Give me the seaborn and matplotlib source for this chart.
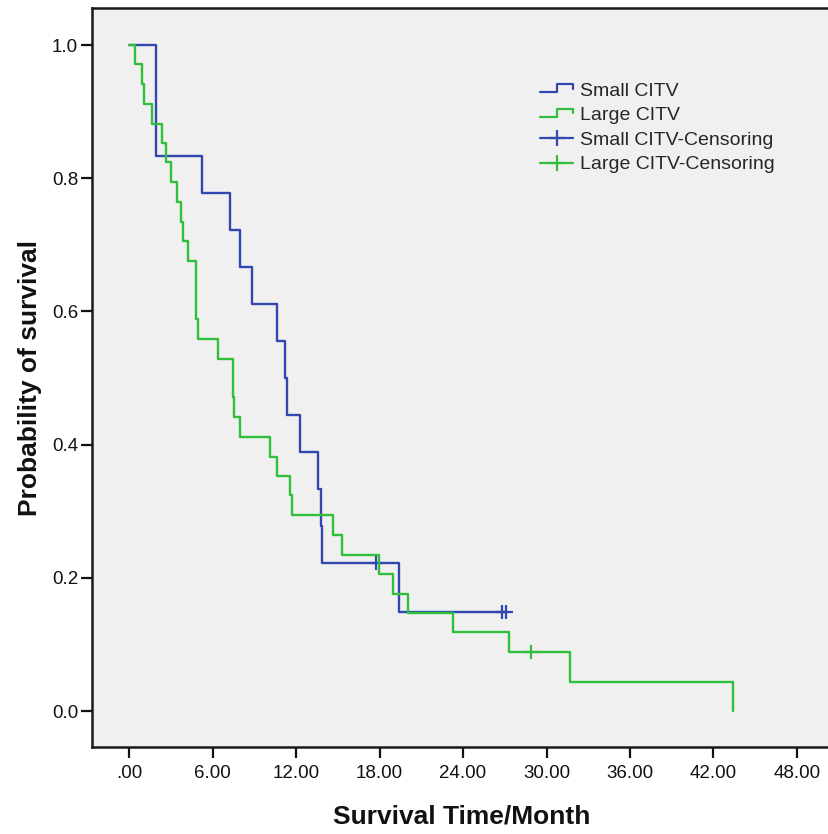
import numpy as np
import pandas as pd
import matplotlib
matplotlib.use("Agg")
import matplotlib.pyplot as plt
import seaborn as sns
from matplotlib.lines import Line2D
from matplotlib.legend_handler import HandlerBase

# step points (time in months, survival after the step)
small_t = [0, 1.94, 5.27, 7.23, 7.97, 8.81, 10.61, 11.2, 11.33, 12.3, 13.55, 13.77, 13.9, 19.42, 27.1]
small_s = [1.0, 0.833, 0.778, 0.722, 0.667, 0.611, 0.556, 0.5, 0.444, 0.389, 0.333, 0.278, 0.222, 0.148, 0.148]
small_cens_t = [17.74, 26.8, 27.1]
small_cens_s = [0.222, 0.148, 0.148]

large_t = [0, 0.43, 0.91, 1.1, 1.63, 2.37, 2.66, 2.99, 3.47, 3.71, 3.85, 4.21, 4.79, 4.82, 4.98,
           6.42, 7.45, 7.5, 7.57, 7.97, 10.13, 10.6, 11.57, 11.69, 14.68, 15.34, 17.98, 18.99,
           20.07, 23.25, 27.3, 31.7, 43.37]
large_s = [1.0, 0.971, 0.941, 0.912, 0.882, 0.853, 0.824, 0.794, 0.765, 0.735, 0.706, 0.676, 0.647,
           0.588, 0.559, 0.529, 0.5, 0.471, 0.441, 0.412, 0.382, 0.353, 0.324, 0.294, 0.265, 0.235,
           0.206, 0.176, 0.147, 0.118, 0.088, 0.044, 0.0]
large_cens_t = [28.9]
large_cens_s = [0.088]

x_ticks = [0, 6, 12, 18, 24, 30, 36, 42, 48]
x_ticklabels = [".00", "6.00", "12.00", "18.00", "24.00", "30.00", "36.00", "42.00", "48.00"]
y_ticks = [0.0, 0.2, 0.4, 0.6, 0.8, 1.0]
y_ticklabels = ["0.0", "0.2", "0.4", "0.6", "0.8", "1.0"]

blue = "#3347b0"
green = "#2fbf3a"

sns.set_style("white")
plt.rcParams["font.family"] = ["Liberation Sans", "DejaVu Sans"]

fig = plt.figure(figsize=(8.29, 8.34), dpi=100)
ax = fig.add_axes([92 / 829, 87 / 834, 737 / 829, 739 / 834])
ax.set_facecolor("#f0f0f0")

small = pd.DataFrame({"t": small_t, "s": small_s})
large = pd.DataFrame({"t": large_t, "s": large_s})

sns.lineplot(data=small, x="t", y="s", ax=ax, color=blue, lw=1.7, drawstyle="steps-post",
             estimator=None, sort=False)
sns.lineplot(data=large, x="t", y="s", ax=ax, color=green, lw=1.7, drawstyle="steps-post",
             estimator=None, sort=False)
sns.scatterplot(x=small_cens_t, y=small_cens_s, ax=ax, marker="+", s=95, color=blue, linewidth=1.6)
sns.scatterplot(x=large_cens_t, y=large_cens_s, ax=ax, marker="+", s=95, color=green, linewidth=1.6)

ax.set_xlim(-2.66, 50.3)
ax.set_ylim(-0.054, 1.0556)
ax.set_xticks(x_ticks)
ax.set_xticklabels(x_ticklabels)
ax.set_yticks(y_ticks)
ax.set_yticklabels(y_ticklabels)
ax.tick_params(axis="both", direction="out", length=8, width=1.6, color="#111111",
               labelsize=13.5, labelcolor="#111111", left=True, bottom=True)
ax.tick_params(axis="x", pad=5)
ax.tick_params(axis="y", pad=2)

for side in ["left", "bottom", "top"]:
    ax.spines[side].set_color("#1a1a1a")
    ax.spines[side].set_linewidth(1.8)
ax.spines["right"].set_visible(False)

ax.set_xlabel("Survival Time/Month", fontsize=19, fontweight="bold", color="#111111")
ax.set_ylabel("Probability of survival", fontsize=19, fontweight="bold", color="#111111")
ax.xaxis.label.set_va("center")
ax.yaxis.label.set_va("center")
ax.xaxis.set_label_coords(0.502, -0.094)
ax.yaxis.set_label_coords(-0.084, 0.5)


class StepHandler(HandlerBase):
    def create_artists(self, legend, orig_handle, xdescent, ydescent, width, height, fontsize, trans):
        xs = np.array([0, 0.5, 0.5, 1.0, 1.0]) * width - xdescent
        ys = np.array([0.25, 0.25, 0.85, 0.85, 0.5]) * height - ydescent
        line = Line2D(xs, ys, color=orig_handle.get_color(), lw=1.6)
        line.set_transform(trans)
        return [line]


h_small = Line2D([], [], color=blue)
h_large = Line2D([], [], color=green)
h_small_c = Line2D([], [], color=blue, lw=1.6, marker="+", markersize=12, markeredgewidth=1.6)
h_large_c = Line2D([], [], color=green, lw=1.6, marker="+", markersize=12, markeredgewidth=1.6)

leg = ax.legend([h_small, h_large, h_small_c, h_large_c],
                ["Small CITV", "Large CITV", "Small CITV-Censoring", "Large CITV-Censoring"],
                handler_map={h_small: StepHandler(), h_large: StepHandler()},
                loc="upper left", bbox_to_anchor=(540 / 829, 1 - 82 / 834),
                bbox_transform=fig.transFigure, frameon=False, fontsize=14,
                handlelength=1.7, handletextpad=0.35, labelspacing=0.36,
                borderpad=0, borderaxespad=0)

fig.savefig("out.png", dpi=100, facecolor="white")
